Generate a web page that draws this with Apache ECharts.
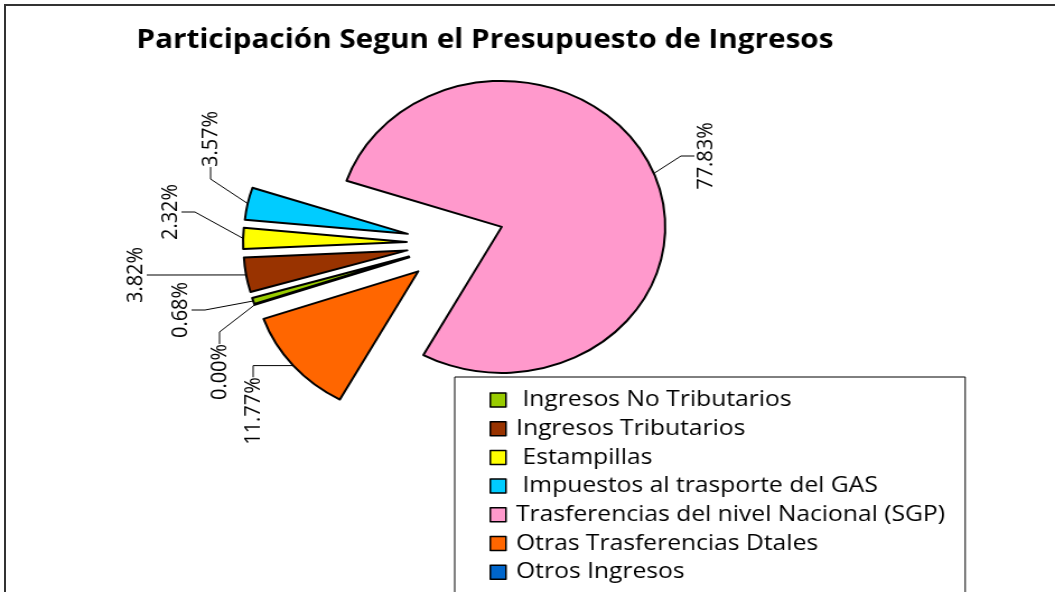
<!DOCTYPE html>
<html>
<head>
<meta charset="utf-8">
<script src="https://cdn.jsdelivr.net/npm/echarts@6/dist/echarts.min.js"></script>
<style>
  html, body { margin: 0; padding: 0; background: #fff; }
  #wrap {
    position: relative;
    width: 1055px;
    height: 592px;
    overflow: hidden;
    background: #fff;
  }
  #frame {
    position: absolute;
    left: 4px;
    top: 4px;
    right: -10px;
    bottom: -10px;
    border-top: 2px solid #333;
    border-left: 2px solid #333;
  }
  /* the source picture is stretched sideways, so the chart is drawn narrower and scaled */
  #chart {
    position: absolute;
    left: 0;
    top: 0;
    width: 942px;
    height: 592px;
    transform: scaleX(1.12);
    transform-origin: 0 0;
  }
</style>
</head>
<body>
<div id="wrap">
  <div id="frame"></div>
  <div id="chart"></div>
</div>
<script>
const categories = [
  ' Ingresos No Tributarios',
  'Ingresos Tributarios',
  ' Estampillas',
  ' Impuestos al trasporte del GAS',
  'Trasferencias del nivel Nacional (SGP)',
  'Otras Trasferencias Dtales',
  'Otros Ingresos'
]
const shares = [0.68, 3.82, 2.32, 3.57, 77.83, 11.77, 0.0]
const sliceColors = ['#99cc00', '#993300', '#ffff00', '#00ccff', '#ff99cc', '#ff6600', '#0066cc']
// where each rotated percentage label sits (centre, chart px), as placed by hand in the source
const labelCenters = [[161, 310], [121, 275], [152, 212], [188, 139], [630, 156], [226, 411], [196, 372]]

const pieCenter = [407, 243]
const pieRadius = 146
const firstAngle = 199
const explode = 44

const chart = echarts.init(document.getElementById('chart'))

// every slice is pulled out of the pie, so each one gets its own pie series
// (the slice plus an invisible filler), moved along its own bisector
const total = shares.reduce((a, b) => a + b, 0)
let before = 0
const slices = categories.map((name, i) => {
  const start = firstAngle - (360 * before) / total
  const mid = (start - (180 * shares[i]) / total) * Math.PI / 180
  before += shares[i]
  return {
    type: 'pie',
    center: [pieCenter[0] + explode * Math.cos(mid), pieCenter[1] - explode * Math.sin(mid)],
    radius: pieRadius,
    startAngle: start,
    clockwise: true,
    avoidLabelOverlap: false,
    silent: true,
    emphasis: { disabled: true },
    itemStyle: { borderColor: '#000', borderWidth: 2 },
    label: {
      show: true,
      position: 'outside',
      fontFamily: 'Open Sans',
      fontSize: 20,
      color: '#000',
      formatter: (p) => p.value.toFixed(2) + '%',
    },
    labelLine: {
      show: true,
      length: 12,
      length2: 12,
      lineStyle: { color: '#000', width: 1 },
    },
    labelLayout: (p) => ({
      x: labelCenters[p.seriesIndex][0],
      y: labelCenters[p.seriesIndex][1],
      rotate: 90,
      align: 'center',
      verticalAlign: 'middle',
      hideOverlap: false,
    }),
    data: [
      { name, value: shares[i], itemStyle: { color: sliceColors[i] } },
      {
        name: '',
        value: total - shares[i],
        itemStyle: { color: 'rgba(0,0,0,0)', borderWidth: 0 },
        label: { show: false },
        labelLine: { show: false },
      },
    ],
  }
})

chart.setOption({
  animation: false,
  title: {
    text: 'Participación Segun el Presupuesto de Ingresos',
    left: 428,
    textAlign: 'center',
    top: 22,
    textStyle: {
      fontFamily: 'Open Sans',
      fontWeight: 'bold',
      fontSize: 26.5,
      color: '#000',
    },
  },
  legend: {
    orient: 'vertical',
    left: 406,
    top: 377,
    height: 300,
    icon: 'rect',
    itemWidth: 14,
    itemHeight: 14,
    itemGap: 6.7,
    padding: [12, 18, 20, 31],
    borderColor: '#000',
    borderWidth: 1,
    itemStyle: {
      borderColor: '#000',
      borderWidth: 1.5,
    },
    textStyle: {
      fontFamily: 'Open Sans',
      fontSize: 22,
      lineHeight: 22,
      color: '#000',
      padding: [0, 0, 0, 4],
    },
    data: categories,
  },
  series: slices,
})
</script>
</body>
</html>
